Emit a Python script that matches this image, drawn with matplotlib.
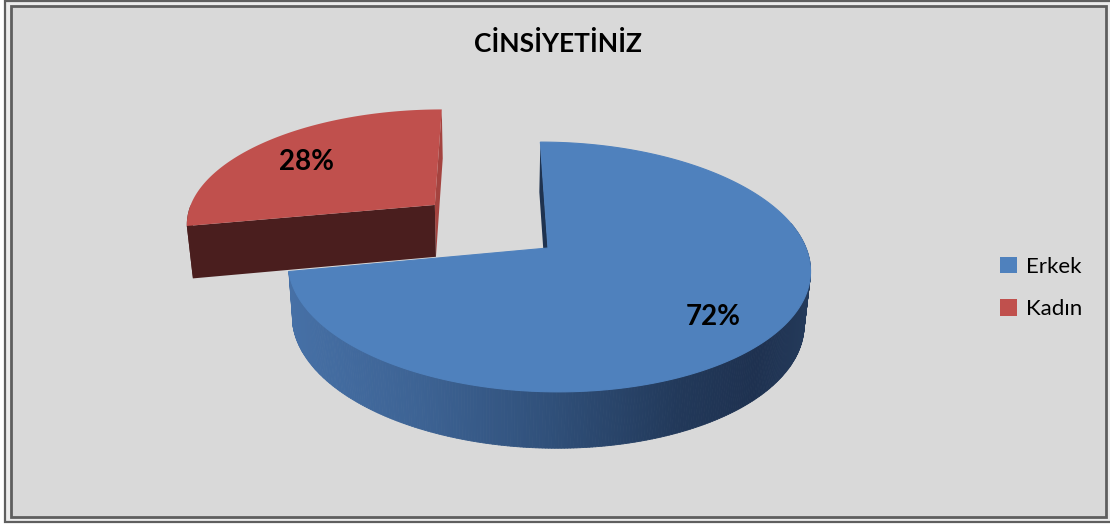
import numpy as np
import matplotlib.pyplot as plt
from matplotlib.patches import Polygon, Rectangle, Patch
from matplotlib.collections import PolyCollection
from matplotlib.colors import LinearSegmentedColormap

# data
labels = ['Erkek', 'Kadın']
values = [72, 28]
explode = [0.0, 0.585]
top_colors = ['#4f81bd', '#c0504d']
title = 'CİNSİYETİNİZ'

# pie geometry (pixel space)
CX, CY = 548, 248      # centre of the top face
VX = 490               # horizontal vanishing centre
A, B = 258, 122        # radii of the top face
K = 0.152              # perspective strength
D, KD = 53, 0.06       # depth of the pie
SHRINK = 0.98


def project(u, v, bottom=False):
	s = 1 + K * v
	x = VX + (CX - VX + A * u) / s
	y = CY - B * v / s
	if bottom:
		x = VX + (x - VX) * SHRINK
		y = y + D / (1 + KD * v)
	return x, y


def rim(t, off, bottom=False):
	return project(np.cos(t) + off[0], np.sin(t) + off[1], bottom)


def arc(t0, t1, off, bottom=False, n=200):
	ts = np.radians(np.linspace(t0, t1, n))
	xs, ys = rim(ts, off, bottom)
	return list(zip(xs, ys))


fig = plt.figure(figsize=(11.1, 5.27), dpi=100)
ax = fig.add_axes([0, 0, 1, 1])
ax.set_xlim(0, 1110)
ax.set_ylim(527, 0)
ax.axis('off')

# frame
ax.add_patch(Rectangle((4.5, 0.8), 1110, 521.5, facecolor='#ececec', edgecolor='#5f5f5f',
	lw=1.6, zorder=0.1))
ax.add_patch(Rectangle((10.5, 5.5), 1095.5, 511.5, facecolor='#d9d9d9', edgecolor='#5f5f5f',
	lw=2.0, zorder=0.2))

# wedge angles: start at 12 o'clock and go clockwise
total = float(sum(values))
angles = []
start = 90.0
for val in values:
	sweep = 360.0 * val / total
	angles.append((start - sweep, start))
	start -= sweep

offsets = []
for (a0, a1), e in zip(angles, explode):
	mid = np.radians((a0 + a1) / 2)
	offsets.append((e * np.cos(mid), e * np.sin(mid)))

# ---- Kadın (exploded wedge, drawn first)
a0, a1 = angles[1]          # a0 = 12 o'clock side, a1 = front cut
off = offsets[1]
apex_t = project(off[0], off[1])
apex_b = project(off[0], off[1], True)

# right side sliver (face at 12 o'clock)
rt = rim(np.radians(a0), off)
rb = rim(np.radians(a0), off, True)
ax.add_patch(Polygon([apex_t, rt, rb, apex_b], closed=True, facecolor='#a4433f', edgecolor='none'))

# front cut face
ft = rim(np.radians(a1), off)
fb = rim(np.radians(a1), off, True)
ax.add_patch(Polygon([apex_t, ft, fb, apex_b], closed=True, facecolor='#4a1e1e', edgecolor='none'))
# small piece of outer wall
wall = arc(180, a1 + 360, off) + arc(180, a1 + 360, off, True)[::-1]
ax.add_patch(Polygon(wall, closed=True, facecolor='#4a1e1e', edgecolor='none'))

# top
top = [apex_t] + arc(a0, a1, off)
ax.add_patch(Polygon(top, closed=True, facecolor=top_colors[1], edgecolor='none'))

# ---- Erkek
a0, a1 = angles[0]
off = offsets[0]
apex_t = project(off[0], off[1])
apex_b = project(off[0], off[1], True)

rt = rim(np.radians(a1), off)
rb = rim(np.radians(a1), off, True)
ax.add_patch(Polygon([apex_t, rt, rb, apex_b], closed=True, facecolor='#1f3350', edgecolor='none'))

# outer wall, shaded left to right, built from thin strips
side_cmap = LinearSegmentedColormap.from_list('side', [
	(0.0, '#4670a6'), (0.25, '#3d6394'), (0.5, '#30507a'),
	(0.75, '#22395a'), (0.9, '#1e3150'), (1.0, '#243a5a')])
w0 = a0 + 360
up = arc(w0, 372, off, n=300)
dn = arc(w0, 372, off, True, n=300)
quads = [[up[i], up[i + 1], dn[i + 1], dn[i]] for i in range(len(up) - 1)]
xmid = np.array([(q[0][0] + q[1][0]) / 2 for q in quads])
xn = (xmid - 288) / (812 - 288)
cols = side_cmap(np.clip(xn, 0, 1))
ax.add_collection(PolyCollection(quads, facecolors=cols, edgecolors=cols, linewidths=0.6))

top = [apex_t] + arc(a0, a1, off)
ax.add_patch(Polygon(top, closed=True, facecolor=top_colors[0], edgecolor=top_colors[0],
	lw=0.8, zorder=1.1))

ax.set_xlim(0, 1110)
ax.set_ylim(527, 0)

# percentage labels
for (a0, a1), off, val in zip(angles, offsets, values):
	mid = np.radians((a0 + a1) / 2)
	lx, ly = project(0.75 * np.cos(mid) + off[0], 0.75 * np.sin(mid) + off[1])
	ax.text(lx, ly + 6, f'{val}%', ha='center', va='center', fontsize=20,
		fontweight='bold', family='Lato', color='black', zorder=3)

ax.text(558, 52, title, ha='center', va='baseline', fontsize=19,
	fontweight='bold', family='Lato', color='black')

handles = [Patch(facecolor=c, edgecolor='none') for c in top_colors]
ax.legend(handles, labels, loc='upper left', bbox_to_anchor=(1000 / 1110, 1 - 257 / 527),
	frameon=False, prop={'family': 'Lato', 'size': 16}, handlelength=0.75, handleheight=0.75,
	handletextpad=0.4, labelspacing=1.0, borderpad=0, borderaxespad=0)

fig.savefig('out.png', dpi=100)
